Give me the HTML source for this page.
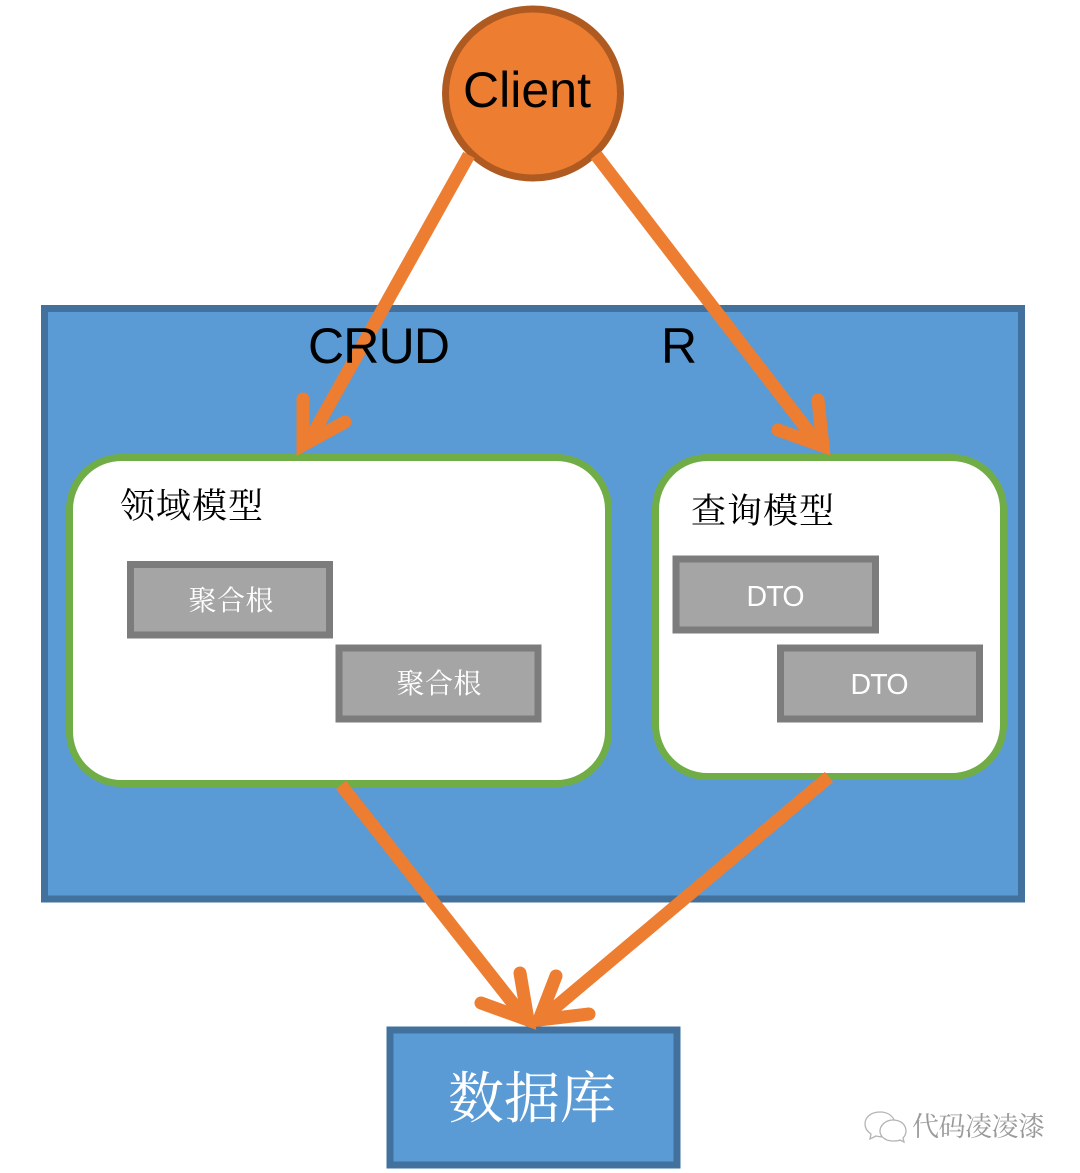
<!DOCTYPE html>
<html><head><meta charset="utf-8">
<style>
html,body{margin:0;padding:0;background:#fff}
svg{display:block}
.l{font-family:"Liberation Sans",sans-serif}
.c{font-family:"Liberation Serif","Noto Serif CJK SC",serif}
</style></head>
<body>
<svg width="1080" height="1173" viewBox="0 0 1080 1173" xmlns="http://www.w3.org/2000/svg">
<rect width="1080" height="1173" fill="#fff"/>
<!-- main box -->
<rect x="44.500" y="308.500" width="977" height="590.500" fill="#5b9bd5" stroke="#41719c" stroke-width="7"/>
<!-- database -->
<rect x="390" y="1030" width="287" height="135" fill="#5b9bd5" stroke="#41719c" stroke-width="7"/>
<text class="c" x="532" y="1118" font-size="56" fill="#fff" text-anchor="middle" textLength="168">数据库</text>
<!-- domain -->
<rect x="69.500" y="457.500" width="539" height="326" rx="52" fill="#fff" stroke="#70ad47" stroke-width="7"/>
<rect x="655.500" y="457.500" width="348" height="319" rx="52" fill="#fff" stroke="#70ad47" stroke-width="7"/>
<text class="c" x="120" y="518" font-size="35" fill="#000" textLength="143">领域模型</text>
<text class="c" x="691" y="523" font-size="35" fill="#000" textLength="143">查询模型</text>
<!-- grey boxes -->
<g fill="#a5a5a5" stroke="#7c7c7c" stroke-width="7">
<rect x="130.500" y="564.500" width="199" height="70.500"/>
<rect x="339" y="648" width="199" height="71"/>
<rect x="676" y="559" width="199.500" height="71"/>
<rect x="780.500" y="648" width="199" height="71"/>
</g>
<g fill="#fff" text-anchor="middle">
<text class="c" x="231" y="610" font-size="28" textLength="85">聚合根</text>
<text class="c" x="439" y="693" font-size="28" textLength="85">聚合根</text>
<text class="l" x="775.500" y="606" font-size="28.500" textLength="58">DTO</text>
<text class="l" x="879.500" y="694" font-size="28.500" textLength="58">DTO</text>
</g>
<!-- client -->
<ellipse cx="533" cy="93.500" rx="87.500" ry="84.500" fill="#ed7d31" stroke="#ae5a21" stroke-width="7"/>
<text class="l" x="527" y="107" font-size="50" fill="#000" text-anchor="middle" textLength="128">Client</text>
<!-- connectors -->
<g fill="none" stroke="#ed7d31" stroke-width="13" stroke-linecap="round" stroke-linejoin="miter" stroke-miterlimit="20">
<path d="M469 155 L309 441" stroke-linecap="butt"/>
<path d="M303 399 L303 445 L345 422"/>
<path d="M596 155 L816 441" stroke-linecap="butt"/>
<path d="M818 400 L823 446 L778 430"/>
<path d="M341 785 L523 1016" stroke-linecap="butt"/>
<path d="M520 973 L528 1020 L481 1003"/>
<path d="M829 777 L545 1016" stroke-linecap="butt"/>
<path d="M556 976 L539 1020 L589 1014"/>
</g>
<text class="l" x="308" y="363" font-size="50" fill="#000" textLength="142">CRUD</text>
<text class="l" x="661" y="363" font-size="50" fill="#000">R</text>
<!-- watermark -->
<g fill="#fff" stroke="#b4b4b4" stroke-width="1.300">
<path d="M880 1112 C870 1112 865 1118 865 1124 C865 1129 868 1132 871 1134 L870 1139 L876 1136 C880 1137 884 1137 886 1136 L895 1122 C893 1116 888 1112 880 1112Z"/>
<path d="M893 1120 C885 1120 880 1126 880 1131 C880 1137 886 1141 893 1141 C896 1141 898 1141 900 1140 L904 1142 L903 1138 C905 1136 906 1134 906 1131 C906 1125 901 1120 893 1120Z"/>
</g>
<text class="c" x="912" y="1136" font-size="27" fill="#9a9a9a" textLength="133">代码凌凌漆</text>
</svg>
</body></html>
